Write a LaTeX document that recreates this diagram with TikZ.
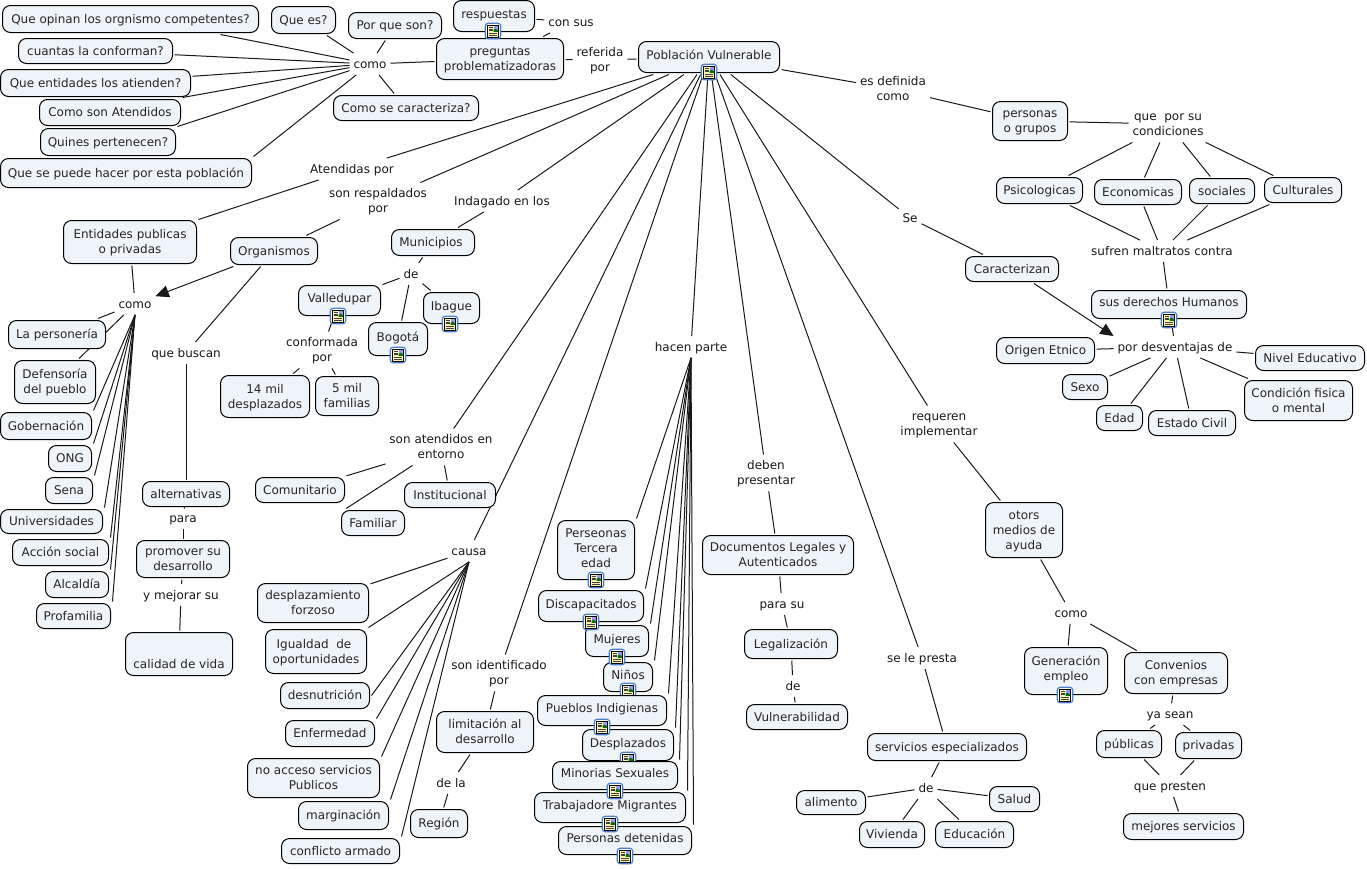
\documentclass[tikz,border=0pt]{standalone}
\usepackage{fontspec}
\setmainfont{DejaVu Sans}
\usetikzlibrary{arrows.meta,backgrounds,calc}
\definecolor{cfill}{HTML}{EEF4F7}
\definecolor{iblue}{HTML}{4A80D0}
\definecolor{ipaper}{HTML}{FBF3B0}
\tikzset{
  cpt/.style={draw=black,fill=cfill,rounded corners=6pt,line width=0.75pt,inner sep=0pt,align=center,font=\fontsize{9}{11.25}\selectfont,text=black!85,outer sep=1.5pt},
  lnk/.style={inner sep=1pt,outer sep=2pt,align=center,font=\fontsize{9}{11.25}\selectfont,text=black!90},
  conn/.style={line width=0.75pt,draw=black!90},
  arr/.style={conn,-{Triangle[length=10pt,width=9pt]}},
  iconbox/.style={draw=iblue,fill=white,line width=0.9pt,rounded corners=2pt,minimum size=11.5pt,inner sep=0pt},
}
\newcommand{\sT}{\rule{0pt}{8.2pt}}
\newcommand{\sB}{\rule[-2.2pt]{0pt}{0pt}}
\newcommand{\up}{\\[-8.5pt]\mbox{}}
\newcommand{\cn}[6]{\node[cpt,minimum width={(#4-#2)*0.75pt-0.75pt},minimum height={(#5-#3)*0.75pt-0.75pt}] (#1) at ({(#2+#4)/2},{(#3+#5)/2}) {\sT#6\sB};}
\newcommand{\lb}[4]{\node[lnk] (#1) at (#2,#3) {\sT#4\sB};}
\newcommand{\ic}[3]{\node[iconbox] (#1) at (#2,#3) {};
  \begin{scope}[shift={(#2,#3)}]
    \fill[ipaper,draw=black,line width=0.5pt] (-5.5,-6) rectangle (5.5,6);
    \fill[black!75] (-4,-4.2) rectangle (-0.5,-3.4);
    \fill[black!75] (-4,-2.4) rectangle (-0.5,-1.6);
    \fill[black!75] (-4,-0.6) rectangle (-0.5,0.2);
    \fill[black!75] (-4,2) rectangle (4,2.8);
    \fill[black!75] (-4,3.8) rectangle (4,4.6);
    \fill[blue!40] (0.5,-5) rectangle (5,0.8);
    \fill[green!45!black] (0.5,-1) -- (2.5,-2.5) -- (5,-0.5) -- (5,0.8) -- (0.5,0.8) -- cycle;
  \end{scope}}
\begin{document}
\begin{tikzpicture}[x=0.75pt,y=-0.75pt]
\begin{scope}[on background layer]
\fill[white] (0,0) rectangle (1367,868);
\end{scope}
\useasboundingbox (0,0) rectangle (1367,868);
% questions
\cn{qa}{2}{5}{259}{33}{Que opinan los orgnismo competentes?}
\cn{qb}{271}{6}{336}{34}{Que es?}
\cn{qc}{348}{12}{442}{39}{Por que son?}
\cn{resp}{453}{0}{535}{32}{respuestas\up}
\cn{preg}{436}{38}{564}{80}{preguntas\\problematizadoras}
\cn{pob}{638}{41}{780}{73}{Población Vulnerable\up}
\cn{qd}{18}{38}{173}{64}{cuantas la conforman?}
\cn{qe}{0}{69}{191}{97}{Que entidades los atienden?}
\cn{qf}{39}{99}{181}{126}{Como son Atendidos}
\cn{qg}{40}{128}{176}{156}{Quines pertenecen?}
\cn{qh}{0}{158}{252}{188}{Que se puede hacer por esta población}
\cn{qi}{333}{95}{479}{121}{Como se caracteriza?}
\lb{comoa}{370}{64}{como}
\lb{consus}{571}{22}{con sus}
\lb{referida}{600}{60}{referida\\por}
% right top
\lb{esdef}{893}{89}{es definida\\como}
\cn{pers}{992}{101}{1068}{141}{personas\\o grupos}
\lb{queporsu}{1168}{124}{que\ \ por su\\condiciones}
\cn{psi}{996}{177}{1083}{204}{Psicologicas}
\cn{eco}{1094}{179}{1182}{205}{Economicas}
\cn{soc}{1189}{178}{1255}{204}{sociales}
\cn{cul}{1264}{177}{1342}{203}{Culturales}
\lb{sufren}{1162}{251}{sufren maltratos contra}
\cn{der}{1091}{290}{1247}{319}{sus derechos Humanos\up}
\lb{se}{910}{218}{Se}
\cn{car}{965}{256}{1059}{282}{Caracterizan}
\lb{desv}{1175}{347}{por desventajas de}
\cn{orig}{996}{337}{1095}{364}{Origen Etnico}
\cn{niv}{1255}{345}{1365}{371}{Nivel Educativo}
\cn{sexo}{1062}{374}{1108}{400}{Sexo}
\cn{edad}{1096}{405}{1143}{431}{Edad}
\cn{est}{1148}{410}{1236}{436}{Estado Civil}
\cn{cond}{1244}{380}{1353}{421}{Condición fisica\\o mental}
% left
\lb{atend}{352}{169}{Atendidas por}
\lb{respal}{378}{201}{son respaldados\\por}
\lb{indag}{502}{201}{Indagado en los}
\cn{ent}{63}{220}{197}{264}{Entidades publicas\\o privadas}
\cn{org}{230}{237}{318}{265}{Organismos}
\cn{mun}{391}{229}{475}{256}{Municipios\hspace*{3pt}}
\lb{dem}{411}{274}{de}
\cn{vall}{298}{285}{381}{316}{Valledupar\up}
\cn{iba}{423}{292}{480}{324}{Ibague\up}
\cn{bog}{368}{322}{428}{356}{Bogotá\up}
\lb{confor}{322}{350}{conformada\\por}
\cn{mil}{220}{375}{310}{418}{14 mil\\desplazados}
\cn{fam}{315}{376}{379}{416}{5 mil\\familias}
\lb{comob}{135}{304}{como}
\cn{lap}{8}{320}{106}{349}{La personería}
\cn{def}{14}{360}{96}{404}{Defensoría\\del pueblo}
\cn{gob}{0}{412}{92}{440}{Gobernación}
\cn{ong}{48}{445}{92}{472}{ONG}
\cn{sena}{45}{477}{93}{504}{Sena}
\cn{uni}{0}{509}{103}{534}{Universidades}
\cn{acc}{12}{539}{109}{566}{Acción social}
\cn{alc}{45}{571}{109}{598}{Alcaldía}
\cn{pro}{36}{603}{111}{629}{Profamilia}
\lb{buscan}{186}{353}{que buscan}
\cn{alt}{142}{481}{230}{507}{alternativas}
\lb{para}{183}{518}{para}
\cn{prom}{136}{540}{230}{578}{promover su\\desarrollo}
\lb{mejorar}{181}{595}{y mejorar su}
\cn{cal}{125}{632}{233}{676}{\mbox{}\\[4pt]calidad de vida}
% middle
\lb{entorno}{441}{447}{son atendidos en\\entorno}
\cn{com}{255}{477}{345}{503}{Comunitario}
\cn{fami}{341}{510}{405}{536}{Familiar}
\cn{ins}{404}{482}{496}{508}{Institucional}
\lb{causa}{469}{551}{causa}
\cn{dz}{257}{583}{369}{623}{desplazamiento\\forzoso}
\cn{igu}{265}{629}{367}{674}{Igualdad\ \ de\hspace*{3pt}\\oportunidades}
\cn{des}{280}{682}{370}{709}{desnutrición}
\cn{enf}{285}{720}{375}{747}{Enfermedad}
\cn{noa}{247}{758}{380}{798}{no acceso servicios\\Publicos}
\cn{mar}{298}{801}{389}{830}{marginación}
\cn{con}{281}{838}{400}{864}{conflicto armado}
\lb{ident}{499}{673}{son identificado\\por}
\cn{lim}{436}{711}{534}{753}{limitación al\\desarrollo}
\lb{dela}{451}{783}{de la}
\cn{reg}{410}{809}{468}{838}{Región}
\lb{hacen}{691}{347}{hacen parte}
\cn{per}{557}{520}{635}{580}{Perseonas\\Tercera\hspace*{4pt}\\edad\up}
\cn{dis}{538}{590}{644}{622}{Discapacitados\up}
\cn{muj}{585}{625}{649}{657}{Mujeres\up}
\cn{nin}{603}{662}{653}{692}{Niños\up}
\ic{inin}{628}{691}
\cn{pue}{537}{695}{667}{726}{Pueblos Indigienas\up}
\cn{dsp}{582}{729}{674}{761}{Desplazados\up}
\ic{idsp}{628}{760}
\cn{min}{552}{761}{678}{790}{Minorias Sexuales\up}
\cn{tra}{534}{792}{686}{823}{Trabajadore Migrantes\up}
\cn{pdt}{558}{826}{692}{855}{Personas detenidas\up}
\lb{deben}{766}{473}{deben\\presentar}
\cn{doc}{702}{535}{854}{575}{Documentos Legales y\\Autenticados}
\lb{parasu}{782}{604}{para su}
\cn{leg}{744}{629}{838}{659}{Legalización}
\lb{dev}{793}{686}{de}
\cn{vul}{746}{704}{848}{730}{Vulnerabilidad}
\lb{presta}{922}{658}{se le presta}
\cn{ser}{867}{733}{1027}{761}{servicios especializados}
\lb{des2}{926}{788}{de}
\cn{ali}{796}{790}{866}{815}{alimento}
\cn{sal}{989}{786}{1040}{812}{Salud}
\cn{viv}{859}{821}{925}{848}{Vivienda}
\cn{edu}{935}{821}{1014}{848}{Educación}
\lb{requ}{939}{424}{requeren\\implementar}
\cn{oto}{985}{502}{1063}{558}{otors\\medios de\\ayuda}
\lb{comoc}{1071}{613}{como}
\cn{gen}{1024}{647}{1108}{695}{Generación\\empleo\up}
\cn{cv}{1124}{652}{1228}{694}{Convenios\\con empresas}
\lb{yasean}{1170}{714}{ya sean}
\cn{pub}{1096}{730}{1162}{758}{públicas}
\cn{pri}{1175}{732}{1242}{759}{privadas}
\lb{presten}{1170}{786}{que presten}
\cn{mej}{1123}{813}{1244}{840}{mejores servicios}
% icons on top
\ic{iresp}{493}{31}
\ic{ipob}{709}{72}
\ic{ider}{1169}{320}
\ic{ivall}{338}{316}
\ic{iiba}{450}{324}
\ic{ibog}{398}{355}
\ic{iper}{596}{580}
\ic{idis}{591}{622}
\ic{imuj}{617}{657}
\ic{ipue}{602}{727}
\ic{imin}{615}{791}
\ic{itra}{610}{824}
\ic{ipdt}{625}{856}
\ic{igen}{1065}{695}
\begin{scope}[on background layer]
\foreach \a/\b in {qb/comoa,qc/comoa,qd/comoa,qe/comoa,qi/comoa,comoa/preg,
 preg/consus,consus/resp,preg/referida,referida/pob,pob/esdef,esdef/pers,pers/queporsu,queporsu/psi,queporsu/eco,queporsu/soc,queporsu/cul,
 psi/sufren,eco/sufren,soc/sufren,cul/sufren,sufren/der,der/desv,pob/se,se/car,orig/desv,niv/desv,sexo/desv,edad/desv,est/desv,cond/desv,
 pob/atend,atend/ent,ent/comob,pob/respal,respal/org,pob/indag,indag/mun,mun/dem,dem/vall,dem/iba,dem/bog,vall/confor,confor/mil,confor/fam,
 org/buscan,buscan/alt,alt/para,para/prom,prom/mejorar,mejorar/cal,
 pob/entorno,entorno/com,entorno/ins,pob/causa,pob/ident,ident/lim,lim/dela,dela/reg,pob/hacen,
 pob/deben,deben/doc,doc/parasu,parasu/leg,leg/dev,dev/vul,pob/presta,presta/ser,ser/des2,des2/ali,des2/sal,des2/viv,des2/edu,
 pob/requ,requ/oto,oto/comoc,comoc/gen,comoc/cv,cv/yasean,yasean/pub,yasean/pri,pub/presten,pri/presten,presten/mej,
 lap/comob,def/comob,dz/causa}
 {\draw[conn] (\a) -- (\b);}
\draw[conn] ([xshift=-30pt]qa.south east) -- (comoa);
\foreach \n in {qf,qg,qh} {\draw[conn] (\n.north east) -- (comoa);}
\draw[conn] (entorno) -- ([xshift=5pt]fami.north west);
\foreach \n in {gob,ong,sena,uni,acc,alc,pro} {\draw[conn] (comob.south) -- (\n.north east);}
\foreach \n in {igu,enf,noa,mar,con} {\draw[conn] (causa.south) -- (\n.north east);}
\draw[conn] (causa.south) -- (des.east);
\foreach \n in {per,dis,muj,nin,pue,dsp,min,tra,pdt} {\draw[conn] (hacen.south) -- (\n.north east);}
\draw[arr] (org) -- (comob);
\draw[arr] (car) -- (desv.north west);
\end{scope}
\end{tikzpicture}
\end{document}
